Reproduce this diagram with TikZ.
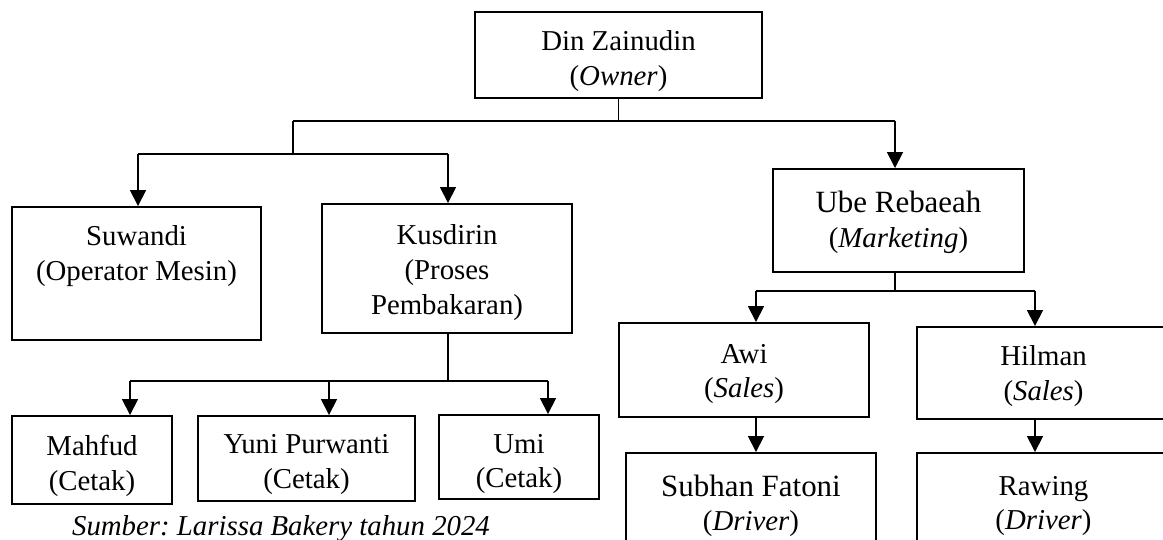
\documentclass[tikz,border=0pt]{standalone}
\usepackage{fontspec}
\setmainfont{Liberation Serif}
\usetikzlibrary{arrows.meta}
\frenchspacing
\begin{document}
\begin{tikzpicture}[x=0.02cm,y=-0.02cm,
  box/.style={draw, line width=1.1pt, rectangle, inner sep=0pt},
  txt/.style={align=center, inner sep=0pt, font=\fontsize{16.4}{19.7}\selectfont},
  conn/.style={line width=1pt},
  arr/.style={conn, -{Triangle[width=9pt,length=9pt]}}]
\useasboundingbox (0,0) rectangle (1163,540);
% boxes
\node[box, minimum width=287*0.02cm, minimum height=86*0.02cm] (owner) at (618.5,55) {};
\node[box, minimum width=249*0.02cm, minimum height=133*0.02cm] (suw) at (136.5,273.5) {};
\node[box, minimum width=250*0.02cm, minimum height=129*0.02cm] (kus) at (447,268.5) {};
\node[box, minimum width=251*0.02cm, minimum height=103*0.02cm] (ube) at (898.5,220.5) {};
\node[box, minimum width=250*0.02cm, minimum height=94*0.02cm] (awi) at (744,370) {};
\node[box, minimum width=253*0.02cm, minimum height=92*0.02cm] (hil) at (1043.5,373) {};
\node[box, minimum width=250*0.02cm, minimum height=100*0.02cm] (sub) at (751,503) {};
\node[box, minimum width=253*0.02cm, minimum height=100*0.02cm] (raw) at (1043.5,503) {};
\node[box, minimum width=160*0.02cm, minimum height=88*0.02cm] (mah) at (92,460) {};
\node[box, minimum width=217*0.02cm, minimum height=85*0.02cm] (yuni) at (306.5,458.5) {};
\node[box, minimum width=160*0.02cm, minimum height=84*0.02cm] (umi) at (519,457) {};
% texts
\node[txt] (owner-t) at ([shift={(0,6)}]owner.center) {Din Zainudin\\(\textit{Owner})};
\node[txt] (suw-t) at ([shift={(0,2)}]suw.center) {Suwandi\\(Operator Mesin)\\\strut};
\node[txt] (kus-t) at ([shift={(0,4)}]kus.center) {Kusdirin\\(Proses\\Pembakaran)};
\node[txt] (ube-t) at ([shift={(0,2)}]ube.center) {{\fontsize{17.6}{20.5}\selectfont Ube Rebaeah}\\(\textit{Marketing})};
\node[txt] (awi-t) at ([shift={(0,4)}]awi.center) {Awi\\(\textit{Sales})};
\node[txt] (hil-t) at ([shift={(0,3)}]hil.center) {Hilman\\(\textit{Sales})};
\node[txt] (sub-t) at ([shift={(0,3)}]sub.center) {{\fontsize{17.6}{20.5}\selectfont Subhan Fatoni}\\(\textit{Driver})};
\node[txt] (raw-t) at ([shift={(0,3)}]raw.center) {Rawing\\(\textit{Driver})};
\node[txt] (mah-t) at ([shift={(0,6)}]mah.center) {Mahfud\\(Cetak)};
\node[txt] (yuni-t) at ([shift={(0,6)}]yuni.center) {Yuni Purwanti\\(Cetak)};
\node[txt] (umi-t) at ([shift={(0,7)}]umi.center) {Umi\\(Cetak)};
% caption
\node[anchor=base, inner sep=0pt, font=\fontsize{16.4}{19.7}\selectfont\itshape] (src) at (281,535) {Sumber: Larissa Bakery tahun 2024};
% junction coordinates
\coordinate (j1) at (293,121);
\coordinate (j2) at (895,121);
\coordinate (j3) at (293,154);
\coordinate (j4) at (138,154);
\coordinate (j5) at (448,154);
\coordinate (k0) at (448,381);
\coordinate (k1) at (130,381);
\coordinate (k2) at (329,381);
\coordinate (k3) at (548,381);
\coordinate (u0) at (895,291);
\coordinate (u1) at (756,291);
\coordinate (u2) at (1035,291);
% connectors
\draw[conn] (owner.south) -- (owner.south |- j1);
\draw[conn] (j1) -- (j2);
\draw[arr] (j2) -- (j2 |- ube.north);
\draw[conn] (j1) -- (j3);
\draw[conn] (j4) -- (j5);
\draw[arr] (j4) -- (j4 |- suw.north);
\draw[arr] (j5) -- (j5 |- kus.north);
\draw[conn] (k0 |- kus.south) -- (k0);
\draw[conn] (k1) -- (k3);
\draw[arr] (k1) -- (k1 |- mah.north);
\draw[arr] (k2) -- (k2 |- yuni.north);
\draw[arr] (k3) -- (k3 |- umi.north);
\draw[conn] (u0 |- ube.south) -- (u0);
\draw[conn] (u1) -- (u2);
\draw[arr] (u1) -- (u1 |- awi.north);
\draw[arr] (u2) -- (u2 |- hil.north);
\draw[arr] (u1 |- awi.south) -- (u1 |- sub.north);
\draw[arr] (u2 |- hil.south) -- (u2 |- raw.north);
\end{tikzpicture}
\end{document}
